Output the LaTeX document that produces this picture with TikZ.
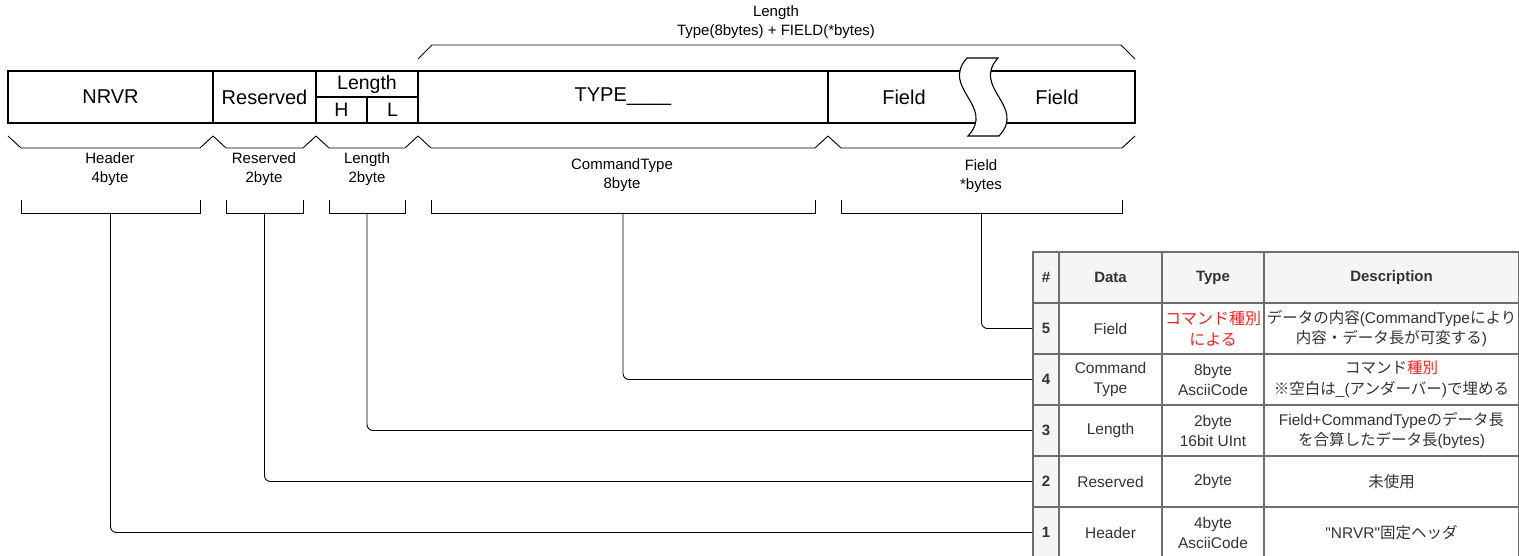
\documentclass[tikz,border=0pt]{standalone}
\usepackage{fontspec}
\setmainfont{Liberation Sans}
\newfontfamily\plainsans{Liberation Sans}
\newfontfamily\jp{Noto Sans CJK JP}
\usetikzlibrary{positioning, calc}
\definecolor{lineGray}{RGB}{110,110,110}
\definecolor{textGray}{RGB}{51,51,51}
\definecolor{headFill}{RGB}{245,245,245}
\definecolor{kindRed}{RGB}{255,30,30}
\tikzset{
    fieldbox/.style={
        rectangle,
        draw=black,
        line width=1.1pt,
        inner sep=0pt,
        minimum height=52pt,
        font=\fontsize{20}{22}\selectfont
    },
    halfbox/.style={
        rectangle,
        draw=black,
        line width=1.1pt,
        inner sep=0pt,
        minimum height=26pt,
        font=\fontsize{19.5}{21}\selectfont
    },
    partlabel/.style={align=center, font=\fontsize{15}{19}\selectfont},
    bracestroke/.style={draw=black, line width=0.9pt},
    leader/.style={draw=black, line width=0.9pt, rounded corners=6pt},
    cell/.style={
        rectangle,
        draw=lineGray,
        line width=1.1pt,
        inner sep=0pt,
        align=center,
        minimum height=51pt,
        text=textGray,
        font=\fontsize{15.5}{20}\selectfont
    },
    numcell/.style={cell, fill=headFill, minimum width=26pt, font=\bfseries\fontsize{15}{20}\selectfont},
    headcell/.style={cell, fill=headFill, font=\bfseries\fontsize{15}{20}\selectfont},
    jptext/.style={font=\jp\fontsize{15.5}{21}\selectfont}
}

\begin{document}
\begin{tikzpicture}[x=1pt,y=-1pt]
        \useasboundingbox (0,0) rectangle (1519,556);

        \node[fieldbox, minimum width=205pt] (nrvr) at (110.5,97) {NRVR};
        \node[fieldbox, minimum width=103pt] (resv) at (264.5,97) {Reserved};
        \node[halfbox, minimum width=102pt] (lenTop) at (367,84) {Length};
        \node[halfbox, minimum width=51pt] (lenH) at (341.5,110) {H};
        \node[halfbox, minimum width=51pt] (lenL) at (392.5,110) {L};
        \node[fieldbox, minimum width=410pt] (type) at (623,97) {TYPE\_\_\_\_};
        \node[fieldbox, minimum width=307pt] (field) at (981.5,97) {};
        \node[font=\fontsize{20}{22}\selectfont] (fieldA) at (904,97) {Field};
        \node[font=\fontsize{20}{22}\selectfont] (fieldB) at (1057,97) {Field};
        \draw[fill=white, line width=1.1pt] (967,58) .. controls (940,88) and (996,106) .. (968,136)
            -- (999,136) .. controls (1027,106) and (971,88) .. (998,58) -- cycle;

        \draw[bracestroke] (418,59) -- (432,45) -- (1121,45) -- (1135,59);
        \node[partlabel] (lenTotal) at (776,22) {Length\\Type(8bytes) + FIELD(*bytes)};

        \foreach \a/\b/\n in {8/213/1,213/316/2,316/418/3,418/828/4,828/1135/5}{
            \draw[bracestroke] (\a,136) -- (\a+13,148) -- (\b-13,148) -- (\b,136);
            \draw[bracestroke] (\a+13,200) -- (\a+13,213) -- (\b-13,213) -- (\b-13,200);
            \coordinate (tip\n) at ({(\a+\b)/2},213);
        }
        \node[partlabel] (hdrLabel) at (110,169) {Header\\4byte};
        \node[partlabel] (resvLabel) at (264,169) {Reserved\\2byte};
        \node[partlabel] (lenLabel) at (367,169) {Length\\2byte};
        \node[partlabel] (typeLabel) at (622,175) {CommandType\\8byte};
        \node[partlabel] (fieldLabel) at (981,176) {Field\\*bytes};

        \node[numcell] (n0) at (1046,277.5) {\#};
        \node[headcell, minimum width=103pt] (d0) at (1110.5,277.5) {Data};
        \node[headcell, minimum width=102pt] (t0) at (1213,277.5) {Type};
        \node[headcell, minimum width=255pt] (s0) at (1391.5,277.5) {Description};

        \node[numcell] (n5) at (1046,328.5) {5};
        \node[cell, minimum width=103pt] (d5) at (1110.5,328.5) {Field};
        \node[cell, minimum width=102pt, jptext, font=\jp\fontsize{16}{21}\selectfont, text=kindRed] (t5) at (1213,328.5) {コマンド種別\\による};
        \node[cell, minimum width=255pt] (s5) at (1391.5,328.5)
            {{\jp\fontsize{15.5}{20}\selectfont データの内容}(CommandType{\jp\fontsize{15.5}{20}\selectfont により}\\{\jp\fontsize{15.5}{20}\selectfont 内容・データ長が可変する})};

        \node[numcell] (n4) at (1046,379.5) {4};
        \node[cell, minimum width=103pt] (d4) at (1110.5,379.5) {Command\\Type};
        \node[cell, minimum width=102pt] (t4) at (1213,379.5) {8byte\\AsciiCode};
        \node[cell, minimum width=255pt, jptext] (s4) at (1391.5,379.5)
            {コマンド\textcolor{kindRed}{種別}\\※空白は{\rmfamily\fontsize{15.5}{20}\selectfont\_(}アンダーバー{\rmfamily\fontsize{15.5}{20}\selectfont)}で埋める};

        \node[numcell] (n3) at (1046,430.5) {3};
        \node[cell, minimum width=103pt] (d3) at (1110.5,430.5) {Length};
        \node[cell, minimum width=102pt] (t3) at (1213,430.5) {2byte\\16bit UInt};
        \node[cell, minimum width=255pt] (s3) at (1391.5,430.5)
            {Field+CommandType{\jp\fontsize{15.5}{20}\selectfont のデータ長}\\{\jp\fontsize{15.5}{20}\selectfont を合算したデータ長}(bytes)};

        \node[numcell] (n2) at (1046,481.5) {2};
        \node[cell, minimum width=103pt] (d2) at (1110.5,481.5) {Reserved};
        \node[cell, minimum width=102pt] (t2) at (1213,481.5) {2byte};
        \node[cell, minimum width=255pt, jptext] (s2) at (1391.5,481.5) {未使用};

        \node[numcell] (n1) at (1046,532.5) {1};
        \node[cell, minimum width=103pt] (d1) at (1110.5,532.5) {Header};
        \node[cell, minimum width=102pt] (t1) at (1213,532.5) {4byte\\AsciiCode};
        \node[cell, minimum width=255pt] (s1) at (1391.5,532.5) {{\plainsans "NRVR"}{\jp\fontsize{15.5}{20}\selectfont 固定ヘッダ}};

        \draw[leader] (tip5) |- (n5.west);
        \draw[leader] (tip4) |- (n4.west);
        \draw[leader] (tip3) |- (n3.west);
        \draw[leader] (tip2) |- (n2.west);
        \draw[leader] (tip1) |- (n1.west);
    \end{tikzpicture}
\end{document}
